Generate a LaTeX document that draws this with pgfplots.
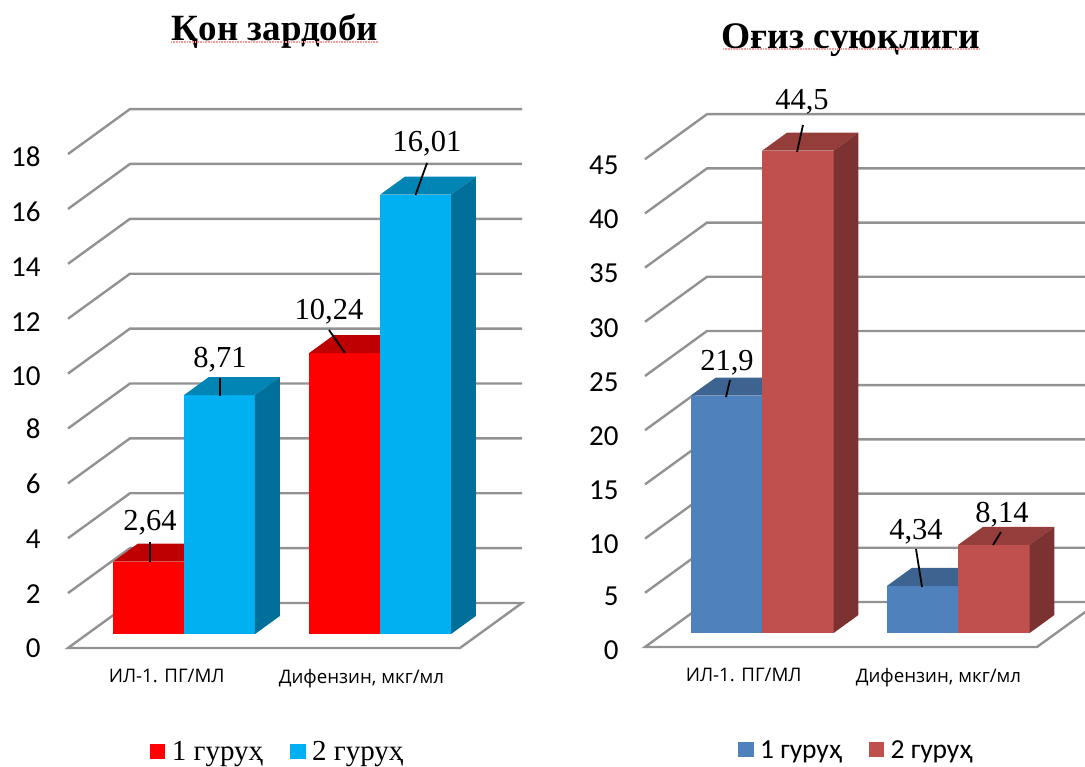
\documentclass[border=0pt]{standalone}
\usepackage{fontspec}
\setmainfont{Liberation Serif}
\newfontfamily\calfont{Carlito}
\newfontfamily\osans{Open Sans}
\usepackage{pgfplots}
\pgfplotsset{compat=1.18}
\definecolor{gridc}{HTML}{929292}
\definecolor{cyanf}{HTML}{00B0F0}
\definecolor{cyant}{HTML}{0085B5}
\definecolor{cyans}{HTML}{006F99}
\definecolor{redt}{HTML}{BE0000}
\definecolor{bluef}{HTML}{4F81BD}
\definecolor{bluet}{HTML}{3D6491}
\definecolor{brickf}{HTML}{C0504D}
\definecolor{brickt}{HTML}{953D3B}
\definecolor{bricks}{HTML}{7C3230}
\newcommand{\tdbar}[6]{%
  \addplot3[fill=#4,draw=none,no markers,forget plot] coordinates {(#1,0.31,0)(#2,0.31,0)(#2,0.31,#3)(#1,0.31,#3)};
  \addplot3[fill=#5,draw=none,no markers,forget plot] coordinates {(#1,0.31,#3)(#2,0.31,#3)(#2,0.71,#3)(#1,0.71,#3)};
  \addplot3[fill=#6,draw=none,no markers,forget plot] coordinates {(#2,0.31,0)(#2,0.71,0)(#2,0.71,#3)(#2,0.31,#3)};
}
\pgfplotsset{chart/.style={
  clip=false,
  anchor=origin,
  xmin=0,xmax=2,ymin=0,ymax=1,zmin=0,
  axis line style={draw=none},
  major tick style={draw=none},
  xtick={0.5,1.5},xticklabels={ИЛ-1. ПГ/МЛ,{Дифензин, мкг/мл}},
  ytick=\empty,
  zticklabel pos=left,
  x tick label style={font=\fontsize{18.7}{18.7}\selectfont\osans,xshift=6pt,yshift=-18pt},
  z tick label style={font=\fontsize{29}{29}\selectfont\calfont,/pgf/number format/assume math mode=true},
  legend columns=2,
  legend cell align=left,
  legend style={draw=none,fill=none,inner sep=0pt,/tikz/every even column/.append style={column sep=25pt}},
  legend image code/.code={\fill[##1,draw=none] (0pt,-7.5pt) rectangle (15.5pt,7.5pt);\path[draw=none,fill=none] (0pt,0pt) -- (20pt,0pt);},
  gl/.style={draw=gridc,line width=2.4pt,no markers,forget plot},
}}
\begin{document}
\begin{tikzpicture}[x=1pt,y=1pt]
\useasboundingbox (0,0) rectangle (1085pt,767pt);
\begin{axis}[chart,at={(68pt,119pt)},x={(196pt,0)},y={(62pt,45pt)},z={(0,27.44pt)},zmax=18,ztick={0,2,...,18},
  z tick label style={xshift=-24pt,yshift=3pt},
  legend style={at={(axis cs:1.07,0,-3.79)},anchor=center,font=\fontsize{29}{29}\selectfont}]
\pgfplotsinvokeforeach{2,4,...,18}{\addplot3[gl] coordinates {(0,0,#1)(0,1,#1)(2,1,#1)};}
\addplot3[gl] coordinates {(0,1,0)(2,1,0)(2,0,0)(0,0,0)(0,1,0)};
\tdbar{0.132}{0.494}{2.64}{red}{redt}{red}
\tdbar{0.494}{0.856}{8.71}{cyanf}{cyant}{cyans}
\tdbar{1.132}{1.494}{10.24}{red}{redt}{red}
\tdbar{1.494}{1.856}{16.01}{cyanf}{cyant}{cyans}
\addlegendimage{fill=red}\addlegendentry{1 гуруҳ}
\addlegendimage{fill=cyanf}\addlegendentry{2 гуруҳ}
\end{axis}
\begin{axis}[chart,at={(645pt,120pt)},x={(196pt,0)},y={(62pt,45pt)},z={(0,10.84pt)},zmax=45,ztick={0,5,...,45},
  z tick label style={xshift=-23pt,yshift=0pt},
  legend style={at={(axis cs:1.077,0,-9.5)},anchor=center,font=\fontsize{27.5}{27.5}\selectfont\calfont}]
\pgfplotsinvokeforeach{5,10,...,45}{\addplot3[gl] coordinates {(0,0,#1)(0,1,#1)(2,1,#1)};}
\addplot3[gl] coordinates {(0,1,0)(2,1,0)(2,0,0)(0,0,0)(0,1,0)};
\tdbar{0.136}{0.5}{21.9}{bluef}{bluet}{bluef}
\tdbar{0.5}{0.864}{44.5}{brickf}{brickt}{bricks}
\tdbar{1.136}{1.5}{4.34}{bluef}{bluet}{bluef}
\tdbar{1.5}{1.864}{8.14}{brickf}{brickt}{bricks}
\addlegendimage{fill=bluef}\addlegendentry{1 гуруҳ}
\addlegendimage{fill=brickf}\addlegendentry{2 гуруҳ}
\end{axis}
% titles
\node[font=\fontsize{37}{37}\selectfont\bfseries] at (275pt,736pt) {Қон зардоби};
\node[font=\fontsize{37.5}{37.5}\selectfont\bfseries] at (851pt,727pt) {Оғиз суюқлиги};
\draw[red!40,line width=1.2pt,dash pattern=on 1pt off 0.6pt] (171pt,725pt) -- (379pt,725pt);
\draw[red!40,line width=1.2pt,dash pattern=on 1pt off 0.6pt] (723pt,718pt) -- (980pt,718pt);
% data labels
\foreach \x/\y/\t in {150/523/{2,64},220/360/{8,71},329/312/{10,24},427/144/{16,01},727/363/{21,9},802/102/{44,5},916/532/{4,34},1002/515/{8,14}}
  \node[font=\fontsize{30.5}{30.5}\selectfont] at (\x pt,767pt-\y pt) {\t};
% leader lines
\foreach \a/\b/\c/\d in {150/542/150/562,220/378/220/396,329/330/345/353,427/163/415.5/195,730/380/726/397,803/125/797/152,916/549/922/587,1001/532/993/545}
  \draw[line width=1.8pt] (\a pt,767pt-\b pt) -- (\c pt,767pt-\d pt);
\end{tikzpicture}
\end{document}
